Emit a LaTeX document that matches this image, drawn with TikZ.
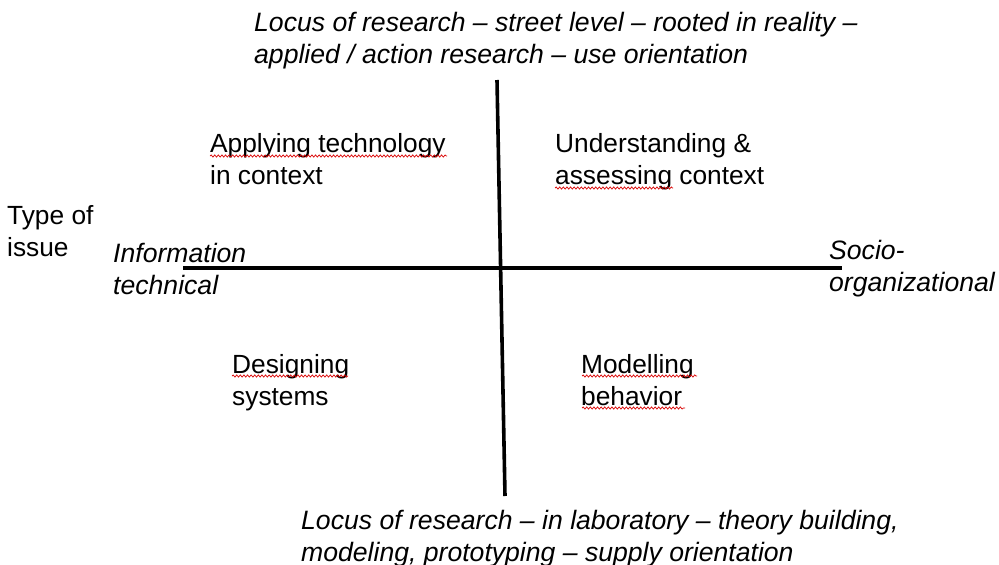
\documentclass[tikz,border=0pt]{standalone}
\usepackage{fontspec}
\setmainfont{Liberation Sans}
\usetikzlibrary{decorations.pathmorphing}
\begin{document}
\begin{tikzpicture}[x=1pt,y=-1pt,
  lbl/.style={anchor=base west,inner sep=0pt,align=left,
    font=\fontsize{26.3}{32}\selectfont},
  ilbl/.style={lbl,font=\fontsize{26.6}{31.5}\selectfont\itshape},
  axis/.style={line width=3.6pt},
  squiggle/.style={red!85!black,line width=0.7pt,
    decorate,decoration={snake,amplitude=1.1pt,segment length=3.6pt}}]
\useasboundingbox (0,0) rectangle (999,565);

% axes
\coordinate (vtop) at (497,80);
\coordinate (vbot) at (505,496);
\coordinate (hleft) at (183,268);
\coordinate (hright) at (842,268);
\draw[axis] (vtop) -- (vbot);
\draw[axis] (hleft) -- (hright);

% axis captions (positions give the baseline of the last line)
\node[ilbl] (top) at (254,63) {Locus of research -- street level -- rooted in reality --\\applied / action research -- use orientation};
\node[ilbl] (bottom) at (301,561) {Locus of research -- in laboratory -- theory building,\\modeling, prototyping -- supply orientation};
\node[ilbl] (left) at (113,294) {Information\\technical};
\node[ilbl] (right) at (829,291) {Socio-\\organizational};
\node[lbl] (issue) at (7,256) {Type of\\issue};

% quadrants
\node[lbl] (q1) at (210,184) {Applying technology\\in context};
\node[lbl] (q2) at (555,184) {Understanding \&\\assessing context};
\node[lbl] (q3) at (232,405) {Designing\\systems};
\node[lbl] (q4) at (581,405) {Modelling\\behavior};

% spelling marks
\draw[squiggle] (210,156) -- (447,156);
\draw[squiggle] (555,188) -- (673,188);
\draw[squiggle] (232,376) -- (348,376);
\draw[squiggle] (582,376) -- (697,376);
\draw[squiggle] (582,408) -- (685,408);
\end{tikzpicture}
\end{document}
